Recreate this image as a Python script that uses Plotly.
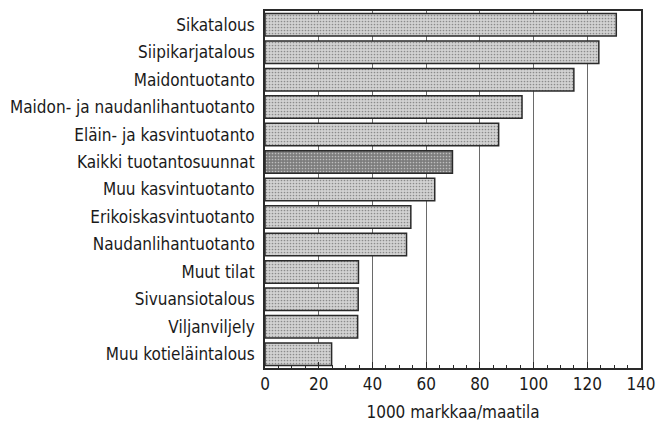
import plotly.graph_objects as go

# Categories (top to bottom) and values, 1000 markkaa/maatila
categories = [
    "Sikatalous",
    "Siipikarjatalous",
    "Maidontuotanto",
    "Maidon- ja naudanlihantuotanto",
    "Eläin- ja kasvintuotanto",
    "Kaikki tuotantosuunnat",
    "Muu kasvintuotanto",
    "Erikoiskasvintuotanto",
    "Naudanlihantuotanto",
    "Muut tilat",
    "Sivuansiotalous",
    "Viljanviljely",
    "Muu kotieläintalous",
]
values = [130.8, 124.3, 115.0, 95.7, 87.0, 69.8, 63.2, 54.3, 52.7, 34.8, 34.7, 34.5, 24.8]
x_ticks = [0, 20, 40, 60, 80, 100, 120, 140]

highlight = "Kaikki tuotantosuunnat"
colors = ["#7c7c7c" if c == highlight else "#d2d2d2" for c in categories]
dots = ["#5a5a5a" if c == highlight else "#9a9a9a" for c in categories]

font_family = "Liberation Sans Narrow, DejaVu Sans Condensed, Arial Narrow, sans-serif"

fig = go.Figure()

fig.add_trace(
    go.Bar(
        x=values,
        y=categories,
        orientation="h",
        width=0.82,
        marker=dict(
            color=colors,
            line=dict(color="#2a2a2a", width=1.5),
            pattern=dict(shape=".", size=3, solidity=0.25, fgcolor=dots, fillmode="overlay"),
        ),
    )
)

# page body has an 8px margin, so the figure is sized to fit inside the window
fig.update_layout(
    width=660,
    height=417,
    margin=dict(l=257, r=27, t=1, b=57),
    plot_bgcolor="white",
    paper_bgcolor="white",
    showlegend=False,
    font=dict(family=font_family, size=17, color="#1a1a1a"),
    xaxis=dict(
        range=[0, 140],
        tickvals=x_ticks,
        ticks="inside",
        ticklen=6,
        tickcolor="#2a2a2a",
        showgrid=True,
        gridcolor="#6a6a6a",
        gridwidth=1,
        zeroline=False,
        showline=True,
        linecolor="#2a2a2a",
        linewidth=2,
        mirror=True,
        minor=dict(dtick=5, ticks="inside", ticklen=3, tickcolor="#2a2a2a", showgrid=False),
        title=dict(text="1000 markkaa/maatila", standoff=13, font=dict(size=17)),
        tickfont=dict(size=17),
    ),
    yaxis=dict(
        categoryorder="array",
        categoryarray=categories,
        autorange="reversed",
        showgrid=False,
        zeroline=False,
        showline=True,
        linecolor="#2a2a2a",
        linewidth=2,
        mirror=True,
        ticks="",
        ticksuffix=" ",
        tickfont=dict(size=17),
    ),
)

fig.write_html("out.html")
